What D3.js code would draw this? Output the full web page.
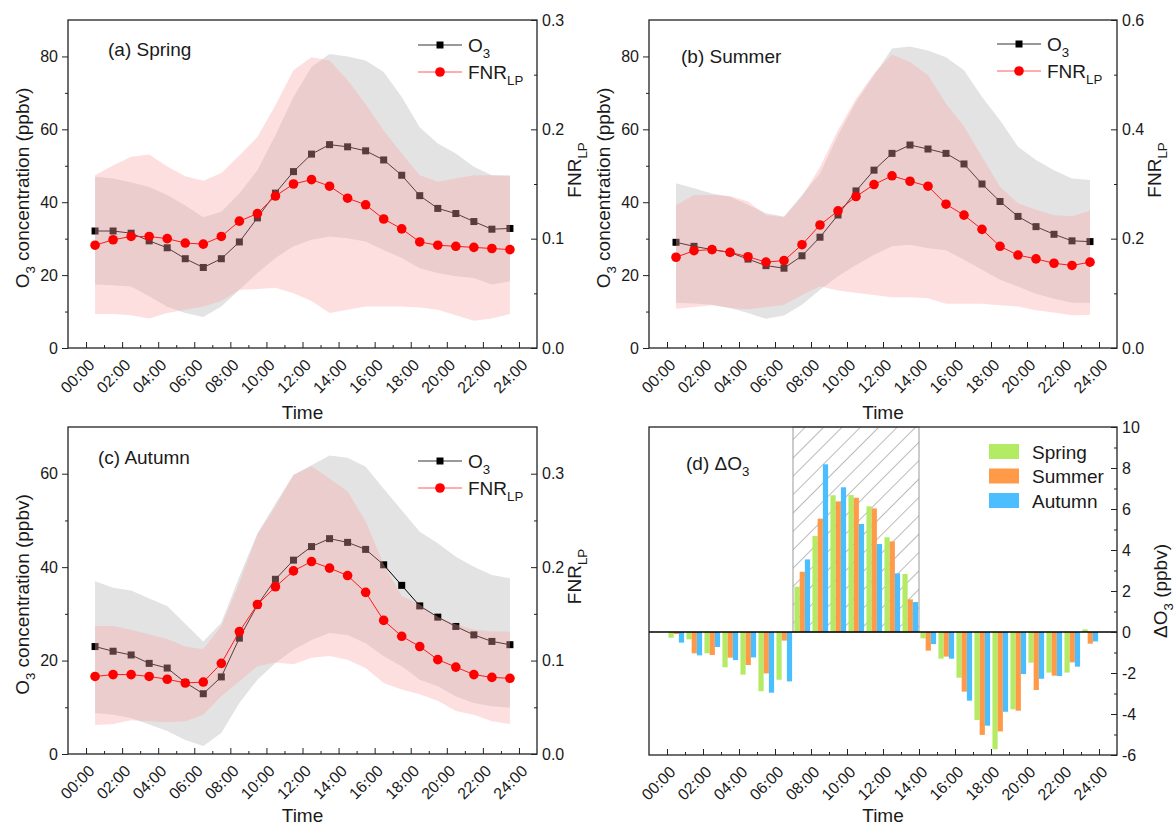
<!DOCTYPE html>
<html>
<head>
<meta charset="utf-8">
<script src="https://cdn.jsdelivr.net/npm/d3@7"></script>
<style>
  body { margin: 0; background: #fff; }
  svg text { font-family: "Liberation Sans", Arial, sans-serif; fill: #1a1a1a; }
</style>
</head>
<body>
<div id="chart"></div>
<script>
"use strict";

// x positions (hour of day, centre of each hourly bin)
const hourMid = [0.5, 1.5, 2.5, 3.5, 4.5, 5.5, 6.5, 7.5, 8.5, 9.5, 10.5, 11.5,
                 12.5, 13.5, 14.5, 15.5, 16.5, 17.5, 18.5, 19.5, 20.5, 21.5, 22.5, 23.5];
const barHours = [0, 1, 2, 3, 4, 5, 6, 7, 8, 9, 10, 11, 12, 13, 14, 15, 16, 17, 18, 19, 20, 21, 22, 23];
const timeTicks = [0, 2, 4, 6, 8, 10, 12, 14, 16, 18, 20, 22, 24];
const timeMinor = [1, 3, 5, 7, 9, 11, 13, 15, 17, 19, 21, 23];
const timeLabels = ["00:00", "02:00", "04:00", "06:00", "08:00", "10:00", "12:00",
                    "14:00", "16:00", "18:00", "20:00", "22:00", "24:00"];

// Spring
const o3Spring   = [32.1, 32.1, 31.5, 29.4, 27.5, 24.5, 22.1, 24.5, 29.1, 35.7, 42.5, 48.4, 53.2, 55.8, 55.2, 54.1, 51.6, 47.4, 41.8, 38.3, 36.9, 34.7, 32.6, 32.8];
const o3SpringHi = [47.0, 46.5, 45.4, 44.2, 42.0, 39.1, 35.9, 37.4, 42.4, 48.8, 58.4, 68.9, 77.1, 80.7, 80.0, 78.9, 75.7, 68.9, 60.6, 56.1, 53.4, 49.7, 47.4, 47.4];
const o3SpringLo = [17.4, 17.2, 16.9, 14.2, 11.3, 9.6, 8.5, 11.4, 16.0, 20.6, 24.7, 27.9, 29.7, 30.6, 30.1, 29.2, 26.9, 24.7, 21.9, 20.6, 19.7, 19.2, 17.4, 18.3];
const fnrSpring   = [0.094, 0.099, 0.102, 0.102, 0.100, 0.096, 0.095, 0.102, 0.116, 0.123, 0.139, 0.150, 0.154, 0.148, 0.137, 0.131, 0.118, 0.109, 0.097, 0.094, 0.093, 0.092, 0.091, 0.090];
const fnrSpringHi = [0.158, 0.167, 0.175, 0.177, 0.166, 0.157, 0.153, 0.160, 0.176, 0.193, 0.222, 0.254, 0.266, 0.263, 0.245, 0.223, 0.199, 0.178, 0.158, 0.152, 0.155, 0.158, 0.158, 0.157];
const fnrSpringLo = [0.031, 0.031, 0.030, 0.027, 0.032, 0.035, 0.038, 0.043, 0.053, 0.054, 0.055, 0.050, 0.043, 0.032, 0.035, 0.038, 0.038, 0.038, 0.037, 0.035, 0.030, 0.025, 0.027, 0.031];

// Summer
const o3Summer   = [29.0, 27.9, 27.0, 26.2, 24.4, 22.6, 21.9, 25.3, 30.4, 36.5, 43.1, 48.8, 53.4, 55.7, 54.6, 53.4, 50.5, 45.0, 40.2, 36.1, 33.3, 31.2, 29.4, 29.2];
const o3SummerHi = [45.2, 43.8, 42.4, 41.5, 39.3, 37.0, 36.1, 42.0, 47.9, 58.4, 67.5, 74.8, 82.2, 82.7, 81.6, 79.8, 76.2, 68.9, 62.5, 55.2, 51.6, 48.8, 46.5, 46.1];
const o3SummerLo = [12.4, 12.2, 11.9, 11.0, 9.6, 8.0, 8.9, 11.9, 16.0, 19.7, 22.8, 25.6, 27.9, 28.3, 27.4, 26.8, 24.2, 21.5, 18.7, 16.9, 14.9, 13.5, 12.4, 12.4];
const fnrSummer   = [0.166, 0.178, 0.180, 0.175, 0.167, 0.157, 0.160, 0.189, 0.225, 0.251, 0.277, 0.299, 0.315, 0.305, 0.296, 0.263, 0.243, 0.217, 0.186, 0.170, 0.163, 0.155, 0.151, 0.157];
const fnrSummerHi = [0.261, 0.280, 0.280, 0.278, 0.268, 0.243, 0.239, 0.277, 0.331, 0.399, 0.456, 0.502, 0.537, 0.523, 0.499, 0.447, 0.405, 0.350, 0.295, 0.265, 0.253, 0.243, 0.241, 0.251];
const fnrSummerLo = [0.072, 0.075, 0.078, 0.073, 0.071, 0.075, 0.079, 0.097, 0.113, 0.105, 0.101, 0.097, 0.093, 0.093, 0.091, 0.081, 0.081, 0.081, 0.078, 0.076, 0.069, 0.065, 0.060, 0.061];

// Autumn
const o3Autumn   = [23.0, 22.0, 21.2, 19.4, 18.4, 15.3, 12.9, 16.5, 24.8, 31.9, 37.4, 41.5, 44.4, 46.1, 45.3, 43.8, 40.5, 36.1, 31.7, 29.3, 27.3, 25.5, 24.1, 23.4];
const o3AutumnHi = [37.0, 35.6, 35.0, 33.3, 31.7, 27.9, 24.1, 28.1, 38.0, 47.2, 53.6, 59.7, 61.8, 63.9, 63.4, 61.5, 56.8, 52.2, 47.6, 45.1, 42.2, 40.1, 38.3, 37.6];
const o3AutumnLo = [8.8, 8.4, 7.7, 6.3, 4.9, 3.0, 1.7, 4.5, 10.9, 15.9, 19.5, 22.3, 24.4, 25.9, 25.5, 23.7, 20.9, 18.8, 15.9, 14.5, 12.3, 10.9, 10.2, 9.9];
const fnrAutumn   = [0.083, 0.085, 0.085, 0.083, 0.080, 0.076, 0.077, 0.097, 0.131, 0.160, 0.179, 0.196, 0.206, 0.199, 0.191, 0.173, 0.143, 0.126, 0.115, 0.101, 0.093, 0.085, 0.082, 0.081];
const fnrAutumnHi = [0.137, 0.137, 0.133, 0.128, 0.123, 0.115, 0.112, 0.137, 0.183, 0.235, 0.265, 0.299, 0.308, 0.295, 0.281, 0.249, 0.203, 0.169, 0.160, 0.147, 0.139, 0.133, 0.131, 0.131];
const fnrAutumnLo = [0.031, 0.032, 0.036, 0.035, 0.034, 0.035, 0.042, 0.062, 0.078, 0.094, 0.098, 0.096, 0.103, 0.105, 0.101, 0.092, 0.076, 0.069, 0.064, 0.057, 0.046, 0.042, 0.035, 0.032];

// Delta O3 (ppbv)
const seasons = ["Spring", "Summer", "Autumn"];
const dSpring = [-0.28, -0.36, -1.04, -1.72, -2.08, -2.89, -2.33, 2.21, 4.68, 6.67, 6.68, 6.13, 4.62, 2.83, -0.31, -1.30, -2.23, -4.29, -5.72, -3.77, -1.50, -1.98, -1.98, 0.13];
const dSummer = [-0.10, -1.04, -1.12, -1.25, -1.61, -2.02, -0.42, 2.94, 5.53, 6.37, 6.55, 6.03, 4.42, 1.59, -0.91, -1.20, -2.91, -5.02, -4.85, -3.84, -2.83, -2.13, -1.48, -0.57];
const dAutumn = [-0.52, -1.14, -0.73, -1.37, -1.24, -2.96, -2.41, 3.54, 8.18, 7.06, 5.27, 4.29, 2.86, 1.46, -0.59, -1.30, -3.35, -4.57, -3.89, -2.05, -2.28, -2.15, -1.69, -0.46];
const hatchRange = [7, 14];

const seasonColors = ["#b4eb64", "#ff9a48", "#4bbeff"];
const pinkFill = "rgba(250,167,167,0.36)";
const grayFill = "#e3e3e3";
const axisColor = "#222";
const tickFont = 16;
const labelFont = 19;

const svg = d3.select("#chart").append("svg")
  .attr("width", 1176)
  .attr("height", 829);

// text with subscripts: parts = [[text, isSub], ...]
function richText(sel, parts, size) {
  parts.forEach(function(p, i) {
    const prevSub = i > 0 && parts[i - 1][1];
    let dy = 0;
    if (p[1] && !prevSub) dy = size * 0.3;
    if (!p[1] && prevSub) dy = -size * 0.3;
    sel.append("tspan")
      .attr("dy", dy)
      .attr("font-size", p[1] ? size * 0.7 : size)
      .text(p[0]);
  });
  return sel;
}

function bottomAxis(g, x, y1, titleGap) {
  g.append("g")
    .attr("transform", "translate(0," + y1 + ")")
    .call(d3.axisBottom(x).tickValues(timeTicks).tickSize(-6)
      .tickFormat(d => timeLabels[timeTicks.indexOf(d)]))
    .attr("color", axisColor)
    .attr("font-size", tickFont)
    .call(a => a.select(".domain").remove())
    .call(a => a.selectAll("text")
      .attr("x", 0).attr("y", 0).attr("dy", "0.35em")
      .attr("text-anchor", "end")
      .attr("transform", "translate(5,14) rotate(-45)"));
  g.append("g")
    .attr("transform", "translate(0," + y1 + ")")
    .call(d3.axisBottom(x).tickValues(timeMinor).tickSize(-3).tickFormat(""))
    .attr("color", axisColor)
    .call(a => a.select(".domain").remove());
  g.append("text")
    .attr("x", (x.range()[0] + x.range()[1]) / 2).attr("y", y1 + titleGap)
    .attr("text-anchor", "middle").attr("font-size", labelFont)
    .text("Time");
}

function linePanel(p) {
  const x = d3.scaleLinear().domain([-1, 25]).range([p.x0, p.x1]);
  const y = d3.scaleLinear().domain([0, p.yMax]).range([p.y1, p.y0]);
  const yr = d3.scaleLinear().domain([0, p.rMax]).range([p.y1, p.y0]);
  const g = svg.append("g");

  // O3 spread
  g.append("path")
    .datum(hourMid)
    .attr("fill", grayFill)
    .attr("d", d3.area()
      .x(d => x(d))
      .y0((d, i) => y(p.o3Lo[i]))
      .y1((d, i) => y(p.o3Hi[i])));

  // O3 mean
  g.append("path")
    .datum(hourMid)
    .attr("fill", "none")
    .attr("stroke", "#000")
    .attr("stroke-width", 1)
    .attr("d", d3.line().x(d => x(d)).y((d, i) => y(p.o3[i])));
  g.selectAll(".sq")
    .data(hourMid)
    .join("rect")
    .attr("x", d => x(d) - 3.5)
    .attr("y", (d, i) => y(p.o3[i]) - 3.5)
    .attr("width", 7)
    .attr("height", 7)
    .attr("fill", "#000");

  // FNR spread (drawn over O3)
  g.append("path")
    .datum(hourMid)
    .attr("fill", pinkFill)
    .attr("d", d3.area()
      .x(d => x(d))
      .y0((d, i) => yr(p.fnrLo[i]))
      .y1((d, i) => yr(p.fnrHi[i])));

  // FNR mean
  g.append("path")
    .datum(hourMid)
    .attr("fill", "none")
    .attr("stroke", "#ff1a1a")
    .attr("stroke-width", 1)
    .attr("d", d3.line().x(d => x(d)).y((d, i) => yr(p.fnr[i])));
  g.selectAll(".ci")
    .data(hourMid)
    .join("circle")
    .attr("cx", d => x(d))
    .attr("cy", (d, i) => yr(p.fnr[i]))
    .attr("r", 4.8)
    .attr("fill", "#ff0000");

  // frame
  g.append("rect")
    .attr("x", p.x0).attr("y", p.y0)
    .attr("width", p.x1 - p.x0).attr("height", p.y1 - p.y0)
    .attr("fill", "none").attr("stroke", axisColor).attr("stroke-width", 1.3);

  // left axis
  g.append("g")
    .attr("transform", "translate(" + p.x0 + ",0)")
    .call(d3.axisLeft(y).tickValues(p.yMajor).tickSize(6).tickPadding(4))
    .attr("color", axisColor).attr("font-size", tickFont)
    .call(a => a.select(".domain").remove());
  g.append("g")
    .attr("transform", "translate(" + p.x0 + ",0)")
    .call(d3.axisLeft(y).tickValues(p.yMinor).tickSize(3).tickFormat(""))
    .attr("color", axisColor)
    .call(a => a.select(".domain").remove());

  // right axis
  g.append("g")
    .attr("transform", "translate(" + p.x1 + ",0)")
    .call(d3.axisRight(yr).tickValues(p.rMajor).tickSize(-6).tickPadding(5)
      .tickFormat(d3.format(".1f")))
    .attr("color", axisColor).attr("font-size", tickFont)
    .call(a => a.select(".domain").remove());
  g.append("g")
    .attr("transform", "translate(" + p.x1 + ",0)")
    .call(d3.axisRight(yr).tickValues(p.rMinor).tickSize(-3).tickFormat(""))
    .attr("color", axisColor)
    .call(a => a.select(".domain").remove());

  bottomAxis(g, x, p.y1, p.timeGap);

  // axis titles
  const cy = (p.y0 + p.y1) / 2;
  richText(g.append("text")
    .attr("text-anchor", "middle")
    .attr("transform", "translate(" + (p.x0 - 39) + "," + (cy + 4) + ") rotate(-90)"),
    [["O", false], ["3", true], [" concentration (ppbv)", false]], labelFont);
  richText(g.append("text")
    .attr("text-anchor", "middle")
    .attr("transform", "translate(" + (p.x1 + 44) + "," + (cy - 14) + ") rotate(-90)"),
    [["FNR", false], ["LP", true]], labelFont);

  // panel label
  g.append("text")
    .attr("x", p.tx).attr("y", p.ty)
    .attr("font-size", labelFont)
    .text(p.title);

  // legend
  const lx = p.lx, ly = p.ly;
  const leg = g.append("g");
  leg.append("line").attr("x1", lx).attr("x2", lx + 44).attr("y1", ly).attr("y2", ly)
    .attr("stroke", "#333").attr("stroke-width", 1);
  leg.append("rect").attr("x", lx + 18.5).attr("y", ly - 3.5).attr("width", 7).attr("height", 7)
    .attr("fill", "#000");
  richText(leg.append("text").attr("x", lx + 50).attr("y", ly + 7), [["O", false], ["3", true]], labelFont);
  leg.append("line").attr("x1", lx).attr("x2", lx + 44).attr("y1", ly + 27).attr("y2", ly + 27)
    .attr("stroke", "#ff5a5a").attr("stroke-width", 1);
  leg.append("circle").attr("cx", lx + 22).attr("cy", ly + 27).attr("r", 4.8)
    .attr("fill", "#ff0000");
  richText(leg.append("text").attr("x", lx + 50).attr("y", ly + 34), [["FNR", false], ["LP", true]], labelFont);
}

linePanel({
  x0: 68, x1: 537, y0: 20, y1: 348,
  yMax: 90, yMajor: [0, 20, 40, 60, 80], yMinor: [10, 30, 50, 70],
  rMax: 0.3, rMajor: [0, 0.1, 0.2, 0.3], rMinor: [0.05, 0.15, 0.25],
  o3: o3Spring, o3Hi: o3SpringHi, o3Lo: o3SpringLo,
  fnr: fnrSpring, fnrHi: fnrSpringHi, fnrLo: fnrSpringLo,
  title: "(a) Spring", tx: 108, ty: 56, lx: 418, ly: 45, timeGap: 71
});

linePanel({
  x0: 649, x1: 1117, y0: 20, y1: 348,
  yMax: 90, yMajor: [0, 20, 40, 60, 80], yMinor: [10, 30, 50, 70],
  rMax: 0.6, rMajor: [0, 0.2, 0.4, 0.6], rMinor: [0.1, 0.3, 0.5],
  o3: o3Summer, o3Hi: o3SummerHi, o3Lo: o3SummerLo,
  fnr: fnrSummer, fnrHi: fnrSummerHi, fnrLo: fnrSummerLo,
  title: "(b) Summer", tx: 681, ty: 63, lx: 997, ly: 44, timeGap: 71
});

linePanel({
  x0: 68, x1: 537, y0: 427, y1: 754,
  yMax: 70, yMajor: [0, 20, 40, 60], yMinor: [10, 30, 50],
  rMax: 0.35, rMajor: [0, 0.1, 0.2, 0.3], rMinor: [0.05, 0.15, 0.25],
  o3: o3Autumn, o3Hi: o3AutumnHi, o3Lo: o3AutumnLo,
  fnr: fnrAutumn, fnrHi: fnrAutumnHi, fnrLo: fnrAutumnLo,
  title: "(c) Autumn", tx: 98, ty: 464, lx: 418, ly: 461, timeGap: 68
});

// (d) Delta O3 bars
function barPanel() {
  const x0 = 649, x1 = 1117, y0 = 427, y1 = 755;
  const x = d3.scaleLinear().domain([-1, 25]).range([x0, x1]);
  const y = d3.scaleLinear().domain([-6, 10]).range([y1, y0]);
  const g = svg.append("g");
  const series = [dSpring, dSummer, dAutumn];

  const defs = svg.append("defs");
  const pat = defs.append("pattern")
    .attr("id", "hatch")
    .attr("patternUnits", "userSpaceOnUse")
    .attr("width", 13).attr("height", 13)
    .attr("patternTransform", "rotate(45)");
  pat.append("line").attr("x1", 0).attr("y1", 0).attr("x2", 0).attr("y2", 13)
    .attr("stroke", "#777").attr("stroke-width", 1);

  g.append("rect")
    .attr("x", x(hatchRange[0])).attr("y", y0)
    .attr("width", x(hatchRange[1]) - x(hatchRange[0]))
    .attr("height", y(0) - y0)
    .attr("fill", "url(#hatch)")
    .attr("stroke", "#999").attr("stroke-width", 1);

  const bw = x(0.29) - x(0);
  series.forEach(function(vals, s) {
    g.selectAll(".b" + s)
      .data(barHours)
      .join("rect")
      .attr("x", d => x(d + 0.08 + s * 0.29))
      .attr("width", bw)
      .attr("y", (d, i) => y(Math.max(0, vals[i])))
      .attr("height", (d, i) => Math.abs(y(vals[i]) - y(0)))
      .attr("fill", seasonColors[s]);
  });

  g.append("line")
    .attr("x1", x0).attr("x2", x1).attr("y1", y(0)).attr("y2", y(0))
    .attr("stroke", "#000").attr("stroke-width", 1.6);

  g.append("rect")
    .attr("x", x0).attr("y", y0)
    .attr("width", x1 - x0).attr("height", y1 - y0)
    .attr("fill", "none").attr("stroke", axisColor).attr("stroke-width", 1.3);

  g.append("g")
    .attr("transform", "translate(" + x1 + ",0)")
    .call(d3.axisRight(y).tickValues([-6, -4, -2, 0, 2, 4, 6, 8, 10])
      .tickSize(-6).tickPadding(5).tickFormat(d => String(d)))
    .attr("color", axisColor).attr("font-size", tickFont)
    .call(a => a.select(".domain").remove());
  g.append("g")
    .attr("transform", "translate(" + x1 + ",0)")
    .call(d3.axisRight(y).tickValues([-5, -3, -1, 1, 3, 5, 7, 9]).tickSize(-3).tickFormat(""))
    .attr("color", axisColor)
    .call(a => a.select(".domain").remove());

  bottomAxis(g, x, y1, 67);

  richText(g.append("text")
    .attr("text-anchor", "middle")
    .attr("transform", "translate(" + (x1 + 50) + "," + ((y0 + y1) / 2) + ") rotate(-90)"),
    [["ΔO", false], ["3", true], [" (ppbv)", false]], labelFont);

  richText(g.append("text").attr("x", 686).attr("y", 470), [["(d) ΔO", false], ["3", true]], labelFont);

  // legend
  seasons.forEach(function(name, i) {
    g.append("rect")
      .attr("x", 989).attr("y", 444 + i * 24.5)
      .attr("width", 30).attr("height", 15)
      .attr("fill", seasonColors[i]);
    g.append("text")
      .attr("x", 1032).attr("y", 458.5 + i * 24.5)
      .attr("font-size", labelFont)
      .text(name);
  });
}

barPanel();
</script>
</body>
</html>
